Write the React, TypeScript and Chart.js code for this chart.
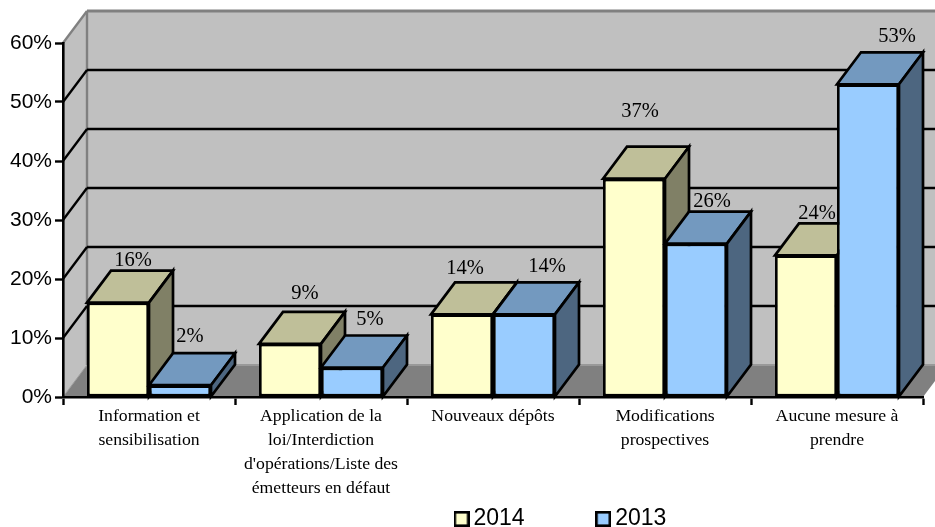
import React, { useEffect, useRef } from "react";
import { Chart, registerables } from "chart.js";

Chart.register(...registerables);

const categories: string[][] = [
  ["Information et", "sensibilisation"],
  ["Application de la", "loi/Interdiction", "d'opérations/Liste des", "émetteurs en défaut"],
  ["Nouveaux dépôts"],
  ["Modifications", "prospectives"],
  ["Aucune mesure à", "prendre"],
];
const values2014 = [16, 9, 14, 37, 24];
const values2013 = [2, 5, 14, 26, 53];

// Hand placement of the value labels relative to the bar tops
const labelShift2014 = [[15, -42], [15, -50], [3, -46], [6, -67], [11, -42]];
const labelShift2013 = [[10, -49], [18, -48], [23, -48], [16, -42], [29, -48]];

const DEPTH_X = 24;
const DEPTH_Y = -32;
const BAR_LINE = 2.7;
const GRID_LINE = 2.4;
const SERIF = "'Liberation Serif', 'Times New Roman', serif";
const SANS = "'Liberation Sans', Arial, sans-serif";

const palette = [
  { front: "#FFFFCC", top: "#BFBF99", side: "#808066" },
  { front: "#99CCFF", top: "#7399BF", side: "#4D6680" },
];

function poly(ctx: CanvasRenderingContext2D, pts: number[][], fill?: string, stroke?: string, lw = 2) {
  ctx.beginPath();
  pts.forEach(([x, y], i) => (i ? ctx.lineTo(x, y) : ctx.moveTo(x, y)));
  ctx.closePath();
  if (fill) {
    ctx.fillStyle = fill;
    ctx.fill();
  }
  if (stroke) {
    ctx.strokeStyle = stroke;
    ctx.lineWidth = lw;
    ctx.lineJoin = "miter";
    ctx.stroke();
  }
}

function line(ctx: CanvasRenderingContext2D, x1: number, y1: number, x2: number, y2: number, color: string, lw = 2) {
  ctx.beginPath();
  ctx.moveTo(x1, y1);
  ctx.lineTo(x2, y2);
  ctx.strokeStyle = color;
  ctx.lineWidth = lw;
  ctx.stroke();
}

const wallPlugin = {
  id: "wall3d",
  beforeDraw(chart: any) {
    const { ctx, chartArea: a, scales } = chart;
    const y = scales.y;
    const x0 = a.left;
    const bx = x0 + DEPTH_X;
    const farRight = a.right + DEPTH_X;
    const top = a.top;
    const bot = a.bottom;
    ctx.save();
    // back wall
    poly(ctx, [[bx, top + DEPTH_Y], [farRight, top + DEPTH_Y], [farRight, bot + DEPTH_Y], [bx, bot + DEPTH_Y]], "#C0C0C0");
    // left wall
    poly(ctx, [[x0, top], [bx, top + DEPTH_Y], [bx, bot + DEPTH_Y], [x0, bot]], "#C0C0C0");
    // floor
    poly(ctx, [[x0, bot], [bx, bot + DEPTH_Y], [farRight, bot + DEPTH_Y], [a.right, bot]], "#808080");
    // grey edges
    line(ctx, x0, top, bx, top + DEPTH_Y, "#808080", 2.4);
    line(ctx, bx, top + DEPTH_Y, farRight, top + DEPTH_Y, "#808080", 3);
    line(ctx, bx, top + DEPTH_Y, bx, bot + DEPTH_Y, "#808080", 2.4);
    line(ctx, bx, bot + DEPTH_Y, farRight, bot + DEPTH_Y, "#999999", 2);
    line(ctx, x0, bot, bx, bot + DEPTH_Y, "#999999", 1);
    // grid lines
    y.ticks.forEach((t: any) => {
      if (t.value === 0 || t.value === y.max) return;
      const py = y.getPixelForValue(t.value);
      line(ctx, x0, py, bx, py + DEPTH_Y, "#000000", GRID_LINE);
      line(ctx, bx, py + DEPTH_Y, farRight, py + DEPTH_Y, "#000000", GRID_LINE);
    });
    ctx.restore();
  },
  afterDatasetsDraw(chart: any) {
    const { ctx } = chart;
    ctx.save();
    [0, 1].forEach((di) => {
      const c = palette[di];
      chart.getDatasetMeta(di).data.forEach((el: any) => {
        const p = el.getProps(["x", "y", "base", "width"], true);
        const l = p.x - p.width / 2;
        const r = p.x + p.width / 2;
        poly(ctx, [[l, p.y], [l + DEPTH_X, p.y + DEPTH_Y], [r + DEPTH_X, p.y + DEPTH_Y], [r, p.y]], c.top, "#000", BAR_LINE);
        poly(ctx, [[r, p.y], [r + DEPTH_X, p.y + DEPTH_Y], [r + DEPTH_X, p.base + DEPTH_Y], [r, p.base]], c.side, "#000", BAR_LINE);
        el.draw(ctx);
      });
    });
    // value labels
    ctx.fillStyle = "#000";
    ctx.font = `20.5px ${SERIF}`;
    ctx.textAlign = "center";
    ctx.textBaseline = "middle";
    [values2014, values2013].forEach((vals, di) => {
      const shifts = di === 0 ? labelShift2014 : labelShift2013;
      chart.getDatasetMeta(di).data.forEach((el: any, i: number) => {
        const p = el.getProps(["x", "y"], true);
        ctx.fillText(`${vals[i]}%`, p.x + shifts[i][0], p.y + shifts[i][1]);
      });
    });
    ctx.restore();
  },
  afterLayout(chart: any) {
    const legend = chart.legend;
    const pad = legend.options.labels.padding;
    legend.left = 461 - pad;
    legend.right = 1000;
    legend.top = 519 - pad - 11.5;
  },
};

function legendSwatch(fill: string) {
  const size = 16;
  const c = document.createElement("canvas");
  c.width = size;
  c.height = size;
  const g = c.getContext("2d")!;
  g.fillStyle = fill;
  g.fillRect(1, 1, 14, 14);
  g.strokeStyle = "#000";
  g.lineWidth = 2.6;
  g.strokeRect(1.3, 1.3, 13.4, 13.4);
  return c;
}

export default function App() {
  const ref = useRef<HTMLCanvasElement>(null);
  useEffect(() => {
    const chart = new Chart(ref.current!, {
      type: "bar",
      data: {
        labels: categories as any,
        datasets: [
          { label: "2014", data: values2014, backgroundColor: palette[0].front, borderColor: "#000", borderWidth: BAR_LINE, borderSkipped: false },
          { label: "2013", data: values2013, backgroundColor: palette[1].front, borderColor: "#000", borderWidth: BAR_LINE, borderSkipped: false },
        ],
      },
      options: {
        animation: false,
        responsive: false,
        devicePixelRatio: 1,
        layout: { autoPadding: false, padding: { left: 0, right: 12, top: 43, bottom: 0 } },
        datasets: { bar: { categoryPercentage: 124 / 172, barPercentage: 1 } },
        plugins: {
          tooltip: { enabled: false },
          legend: {
            position: "bottom",
            align: "start",
            maxHeight: 30,
            labels: {
              usePointStyle: true,
              boxWidth: 1,
              boxHeight: 1,
              pointStyleWidth: 1,
              padding: 78,
              color: "#000",
              font: { family: SANS, size: 23 },
              generateLabels: (chart: any) =>
                chart.data.datasets.map((d: any, i: number) => ({
                  text: d.label,
                  datasetIndex: i,
                  fontColor: "#000",
                  pointStyle: legendSwatch(d.backgroundColor),
                  lineWidth: 0,
                })),
            },
          },
        } as any,
        scales: {
          x: {
            afterFit: (s: any) => { s.height = 100; },
            border: { display: true, color: "#000", width: 2.6 },
            grid: { display: true, drawOnChartArea: false, drawTicks: true, tickLength: 8, tickWidth: 2.4, tickColor: "#000", offset: true },
            ticks: { autoSkip: false, maxRotation: 0, minRotation: 0, padding: 0, color: "#000", font: { family: SERIF, size: 17.7, lineHeight: 23.7 / 17.7 } },
          },
          y: {
            min: 0,
            max: 60,
            afterFit: (s: any) => { s.width = 63; },
            border: { display: true, color: "#000", width: 2.6 },
            grid: { display: true, drawOnChartArea: false, drawTicks: true, tickLength: 8, tickWidth: 2.4, tickColor: "#000" },
            ticks: { stepSize: 10, padding: 3, color: "#000", font: { family: SANS, size: 21 }, callback: (v: any) => `${v}%` },
          },
        },
      } as any,
      plugins: [wallPlugin as any],
    });
    return () => chart.destroy();
  }, []);
  return (
    <div style={{ position: "absolute", left: 0, top: 0, width: 935, height: 527, overflow: "hidden" }}>
      <canvas ref={ref} width={935} height={527} style={{ display: "block" }} />
    </div>
  );
}
